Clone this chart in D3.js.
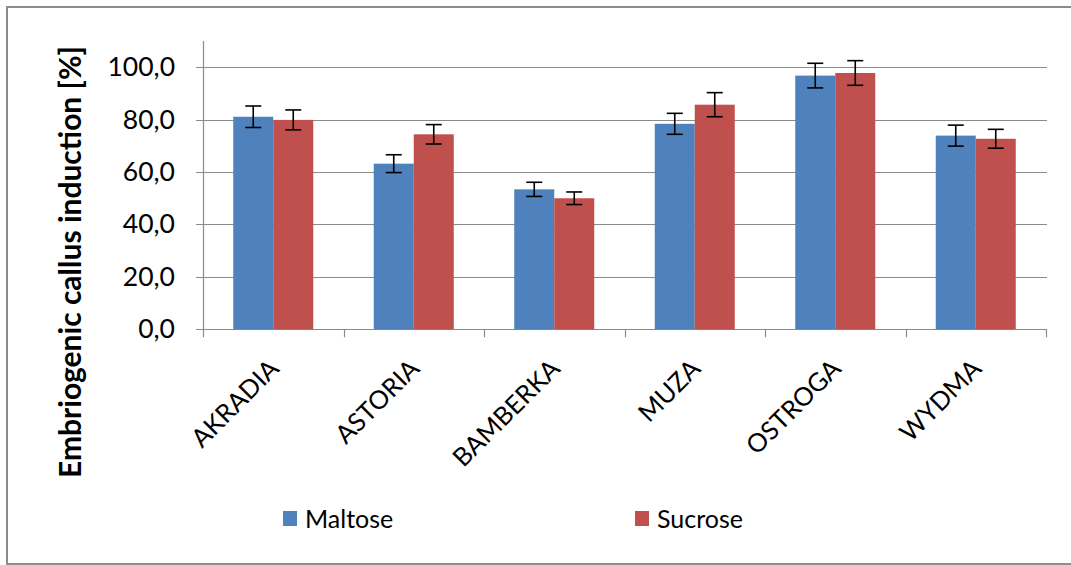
<!DOCTYPE html>
<html>
<head>
<meta charset="utf-8">
<script src="https://cdn.jsdelivr.net/npm/d3@7"></script>
<style>
html,body{margin:0;padding:0;background:#fff;}
svg{display:block;}
text{font-family:Lato, "Open Sans", sans-serif;fill:#000;}
</style>
</head>
<body>
<svg id="chart" width="1071" height="565"></svg>
<script>
const categories = ["AKRADIA","ASTORIA","BAMBERKA","MUZA","OSTROGA","WYDMA"];
const seriesNames = ["Maltose","Sucrose"];
const maltose    = [81.1, 63.2, 53.4, 78.4, 96.8, 73.9];
const maltoseErr = [4.1, 3.4, 2.7, 4.0, 4.7, 4.0];
const sucrose    = [79.9, 74.4, 50.0, 85.7, 97.8, 72.7];
const sucroseErr = [3.8, 3.7, 2.4, 4.6, 4.7, 3.6];
const yTicks = [0, 20, 40, 60, 80, 100];
const colors = ["#4F81BD", "#C0504D"];

(function () {
const svg = d3.select("#chart");
const pLeft = 203, pRight = 1046, pTop = 41, pBottom = 329.3;

// border
svg.append("rect").attr("x", 7).attr("y", 7).attr("width", 1080).attr("height", 557)
  .attr("fill", "none").attr("stroke", "#8c8c8c").attr("stroke-width", 2);

const x0 = d3.scaleBand().domain(categories).range([pLeft, pRight]).padding(0);
const x1 = d3.scaleBand().domain(seriesNames).range([0, x0.bandwidth()]).paddingInner(0).paddingOuter(0.756);
const y = d3.scaleLinear().domain([0, 110]).range([pBottom, pTop]);

// gridlines
svg.append("g").selectAll("line").data(yTicks).join("line")
  .attr("x1", pLeft - 7).attr("x2", pRight + 1)
  .attr("y1", d => Math.round(y(d)) + 0.5).attr("y2", d => Math.round(y(d)) + 0.5)
  .attr("stroke", "#8a8a8a").attr("stroke-width", 1.2);

// y axis
const yAxis = d3.axisLeft(y).tickValues(yTicks).tickSize(0).tickPadding(28)
  .tickFormat(d => d3.format(".1f")(d).replace(".", ","));
const gy = svg.append("g").attr("transform", `translate(${pLeft},0)`).call(yAxis);
gy.select(".domain").remove();
gy.selectAll("text").attr("font-size", 26.5).attr("fill", "#1a1a1a").attr("font-family", "Lato");
svg.append("line").attr("x1", pLeft + 0.5).attr("x2", pLeft + 0.5).attr("y1", pTop).attr("y2", pBottom + 1)
  .attr("stroke", "#8a8a8a").attr("stroke-width", 1.2);

// x axis ticks
const bounds = categories.map(c => x0(c)).concat([pRight]);
svg.append("g").selectAll("line").data(bounds).join("line")
  .attr("x1", d => Math.round(d) + 0.5).attr("x2", d => Math.round(d) + 0.5)
  .attr("y1", pBottom).attr("y2", pBottom + 8)
  .attr("stroke", "#8a8a8a").attr("stroke-width", 1.2);

// x labels
svg.append("g").selectAll("text").data(categories).join("text")
  .attr("transform", d => `translate(${x0(d) + x0.bandwidth() / 2 + 1},364) rotate(-45)`)
  .attr("text-anchor", "end").attr("dy", "0.35em")
  .attr("font-size", 25.5).attr("fill", "#1a1a1a")
  .text(d => d);

// bars
const data = categories.map((c, i) => ({
  cat: c,
  vals: [
    {s: "Maltose", v: maltose[i], e: maltoseErr[i], c: colors[0]},
    {s: "Sucrose", v: sucrose[i], e: sucroseErr[i], c: colors[1]}
  ]
}));
const groups = svg.append("g").selectAll("g").data(data).join("g")
  .attr("transform", d => `translate(${x0(d.cat)},0)`);
groups.selectAll("rect").data(d => d.vals).join("rect")
  .attr("x", d => x1(d.s)).attr("width", x1.bandwidth())
  .attr("y", d => y(d.v)).attr("height", d => y(0) - y(d.v))
  .attr("fill", d => d.c);

// error bars
const eb = groups.selectAll("g.err").data(d => d.vals).join("g").attr("class", "err")
  .attr("stroke", "#000").attr("stroke-width", 1.6);
const cx = d => x1(d.s) + x1.bandwidth() / 2;
eb.append("line")
  .attr("x1", cx).attr("x2", cx)
  .attr("y1", d => y(d.v + d.e)).attr("y2", d => y(d.v - d.e));
eb.append("line")
  .attr("x1", d => cx(d) - 8).attr("x2", d => cx(d) + 8)
  .attr("y1", d => y(d.v + d.e)).attr("y2", d => y(d.v + d.e));
eb.append("line")
  .attr("x1", d => cx(d) - 8).attr("x2", d => cx(d) + 8)
  .attr("y1", d => y(d.v - d.e)).attr("y2", d => y(d.v - d.e));

// y title
svg.append("text")
  .attr("transform", `translate(70,262) rotate(-90)`)
  .attr("text-anchor", "middle").attr("dy", "0.35em")
  .attr("font-size", 30).attr("font-weight", "bold")
  .text("Embriogenic callus induction [%]");

// legend
const legendX = [283, 635];
const lg = svg.append("g").selectAll("g").data(seriesNames).join("g")
  .attr("transform", (d, i) => `translate(${legendX[i]},511)`);
lg.append("rect").attr("width", 14).attr("height", 15).attr("fill", (d, i) => colors[i]);
lg.append("text").attr("x", 22).attr("y", 17).attr("font-size", 25).attr("fill", "#1a1a1a").text(d => d);
})();
</script>
</body>
</html>
